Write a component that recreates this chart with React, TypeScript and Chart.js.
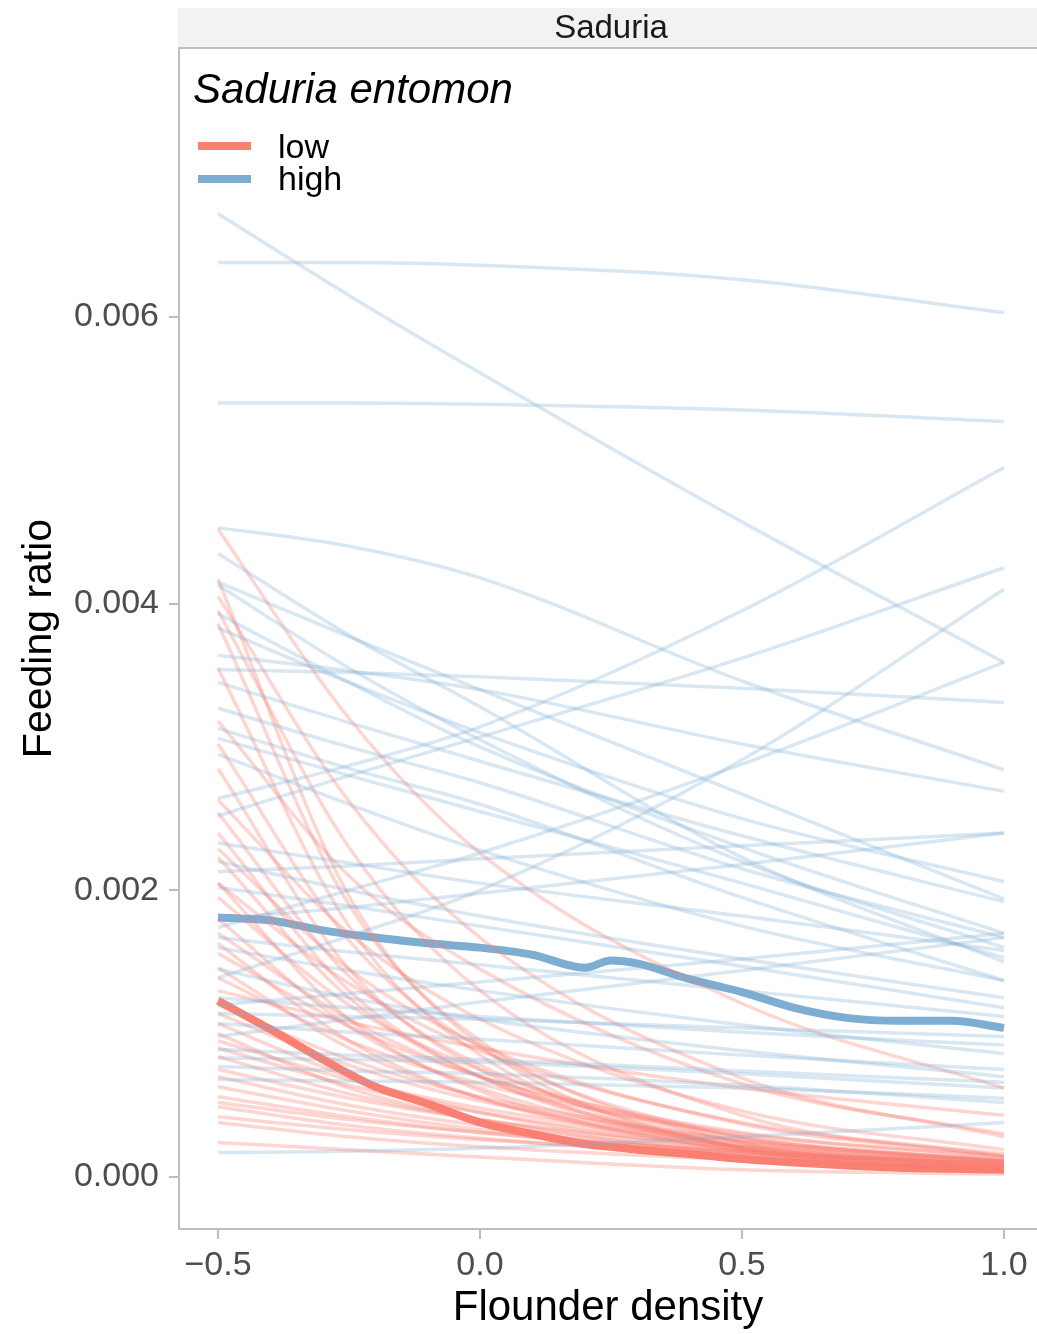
import React, { useEffect, useRef } from "react";
import { Chart, registerables } from "chart.js";

Chart.register(...registerables);

// ---------- data (feeding ratio values in units of 0.001) ----------
const UNIT = 0.001;
const X_POS = [-0.5, -0.25, 0, 0.5, 1.0];

// "high" draws (thin blue lines): values at X_POS
const HIGH_LINES: number[][] = [
  [6.72, 6.15, 5.61, 4.57, 3.59],
  [6.38, 6.38, 6.36, 6.26, 6.03],
  [5.40, 5.40, 5.39, 5.35, 5.27],
  [4.53, 4.40, 4.18, 3.46, 2.84],
  [4.35, 3.78, 3.28, 2.23, 1.50],
  [4.15, 3.77, 3.40, 2.67, 1.94],
  [4.13, 3.55, 3.05, 2.20, 1.60],
  [3.54, 3.52, 3.49, 3.41, 3.31],
  [3.64, 3.53, 3.40, 3.02, 2.69],
  [3.93, 3.45, 3.00, 2.30, 1.70],
  [3.83, 3.45, 3.10, 2.50, 2.06],
  [3.45, 3.17, 2.90, 2.38, 1.92],
  [3.27, 3.00, 2.75, 2.15, 1.67],
  [3.13, 2.85, 2.60, 1.95, 1.37],
  [3.06, 2.80, 2.55, 2.05, 1.53],
  [2.33, 2.19, 2.05, 1.82, 1.58],
  [2.64, 2.87, 3.14, 3.95, 4.95],
  [2.52, 2.80, 3.07, 3.62, 4.25],
  [2.13, 2.17, 2.22, 2.31, 2.40],
  [1.80, 1.88, 1.98, 2.18, 2.40],
  [1.74, 2.00, 2.26, 2.88, 3.59],
  [1.39, 1.68, 2.00, 2.91, 4.10],
  [2.02, 1.89, 1.75, 1.47, 1.18],
  [1.67, 1.57, 1.48, 1.30, 1.12],
  [1.60, 1.44, 1.30, 1.06, 0.86],
  [1.25, 1.18, 1.12, 1.01, 0.92],
  [1.14, 1.12, 1.10, 1.04, 0.98],
  [1.07, 1.01, 0.96, 0.85, 0.75],
  [0.89, 0.85, 0.82, 0.74, 0.66],
  [0.83, 0.82, 0.80, 0.72, 0.62],
  [0.77, 0.74, 0.72, 0.64, 0.52],
  [0.68, 0.67, 0.66, 0.62, 0.55],
  [0.17, 0.18, 0.20, 0.28, 0.38],
  [1.20, 1.28, 1.36, 1.52, 1.70],
  [0.98, 1.10, 1.22, 1.44, 1.67],
  [2.95, 2.60, 2.28, 1.75, 1.37],
  [2.20, 2.00, 1.82, 1.52, 1.25],
  [1.45, 1.25, 1.10, 0.88, 0.70],
];

// "low" draws (thin red lines): values at X_POS
const LOW_LINES: number[][] = [
  [4.52, 3.20, 2.26, 1.21, 0.62],
  [4.17, 1.96, 0.92, 0.20, 0.05],
  [3.95, 2.30, 1.30, 0.43, 0.14],
  [4.05, 2.62, 1.67, 0.69, 0.28],
  [3.86, 1.90, 0.95, 0.24, 0.06],
  [3.55, 1.75, 0.85, 0.20, 0.05],
  [3.02, 1.65, 0.90, 0.27, 0.08],
  [3.18, 2.10, 1.45, 0.65, 0.30],
  [2.63, 1.70, 1.10, 0.46, 0.19],
  [2.54, 1.40, 0.78, 0.24, 0.07],
  [2.29, 1.45, 0.92, 0.37, 0.15],
  [2.23, 1.25, 0.70, 0.22, 0.07],
  [2.05, 1.35, 0.88, 0.38, 0.16],
  [2.05, 1.10, 0.60, 0.18, 0.05],
  [1.70, 1.10, 0.70, 0.28, 0.11],
  [1.63, 0.95, 0.55, 0.19, 0.06],
  [1.56, 1.05, 0.70, 0.31, 0.14],
  [1.46, 0.90, 0.55, 0.21, 0.08],
  [1.39, 0.95, 0.65, 0.30, 0.14],
  [1.30, 1.08, 0.90, 0.62, 0.43],
  [1.14, 0.78, 0.53, 0.25, 0.11],
  [1.07, 0.70, 0.45, 0.19, 0.08],
  [0.95, 0.68, 0.48, 0.24, 0.12],
  [0.84, 0.58, 0.40, 0.19, 0.09],
  [0.75, 0.55, 0.40, 0.21, 0.11],
  [0.63, 0.46, 0.33, 0.17, 0.09],
  [0.56, 0.42, 0.31, 0.17, 0.09],
  [0.49, 0.36, 0.27, 0.15, 0.08],
  [0.42, 0.33, 0.26, 0.16, 0.10],
  [0.38, 0.28, 0.21, 0.12, 0.06],
  [0.24, 0.19, 0.14, 0.05, 0.02],
  [1.80, 1.05, 0.62, 0.21, 0.07],
  [1.95, 1.20, 0.75, 0.28, 0.10],
  [2.40, 1.30, 0.70, 0.20, 0.06],
  [2.85, 1.45, 0.75, 0.20, 0.05],
  [1.20, 0.82, 0.56, 0.26, 0.12],
  [1.00, 0.62, 0.40, 0.16, 0.06],
  [0.90, 0.64, 0.45, 0.22, 0.11],
  [0.70, 0.50, 0.36, 0.18, 0.09],
  [0.52, 0.40, 0.31, 0.18, 0.11],
];

// median curves (thick lines)
const MEDIAN_X = [-0.5, -0.4, -0.3, -0.2, -0.1, 0, 0.1, 0.2, 0.25, 0.3, 0.4, 0.5, 0.6, 0.7, 0.8, 0.9, 1.0];
const HIGH_MEDIAN = [1.81, 1.79, 1.72, 1.67, 1.63, 1.60, 1.55, 1.46, 1.51, 1.49, 1.38, 1.29, 1.18, 1.11, 1.09, 1.09, 1.04];
const LOW_MEDIAN = [1.23, 1.03, 0.82, 0.63, 0.51, 0.38, 0.30, 0.23, 0.21, 0.19, 0.16, 0.125, 0.10, 0.08, 0.065, 0.057, 0.05];

const X_TICKS = [-0.5, 0, 0.5, 1.0];
const X_TICK_LABELS = ["\u22120.5", "0.0", "0.5", "1.0"];
const Y_TICKS = [0, 0.002, 0.004, 0.006];
const Y_TICK_LABELS = ["0.000", "0.002", "0.004", "0.006"];

const SERIES_NAMES = ["low", "high"];
const FACET_LABEL = "Saduria";
const LEGEND_TITLE = "Saduria entomon";

// ---------- styles ----------
const FONT = "'Liberation Sans', Arial, Helvetica, sans-serif";
const RED = "rgb(250,128,114)";
const BLUE = "rgb(125,174,210)";
const RED_THIN = "rgba(250,128,114,0.33)";
const BLUE_THIN = "rgba(125,174,210,0.29)";
const FRAME = "#BEBEBE";

export default function App() {
  const ref = useRef<HTMLCanvasElement | null>(null);

  useEffect(() => {
    document.body.style.margin = "0";
    const canvas = ref.current;
    if (!canvas) return;

    const pts = (xs: number[], ys: number[]) => xs.map((x, i) => ({ x, y: ys[i] * UNIT }));
    const datasets: any[] = [];
    HIGH_LINES.forEach((l) =>
      datasets.push({
        data: pts(X_POS, l),
        borderColor: BLUE_THIN,
        borderWidth: 3.5,
        pointRadius: 0,
        cubicInterpolationMode: "monotone",
        fill: false,
      })
    );
    LOW_LINES.forEach((l) =>
      datasets.push({
        data: pts(X_POS, l),
        borderColor: RED_THIN,
        borderWidth: 3.5,
        pointRadius: 0,
        cubicInterpolationMode: "monotone",
        fill: false,
      })
    );
    datasets.push({
      data: pts(MEDIAN_X, HIGH_MEDIAN),
      borderColor: BLUE,
      borderWidth: 8,
      pointRadius: 0,
      cubicInterpolationMode: "monotone",
      fill: false,
    });
    datasets.push({
      data: pts(MEDIAN_X, LOW_MEDIAN),
      borderColor: RED,
      borderWidth: 8,
      pointRadius: 0,
      cubicInterpolationMode: "monotone",
      fill: false,
    });

    const decor = {
      id: "facetDecor",
      afterDraw(chart: any) {
        const { ctx, chartArea } = chart;
        ctx.save();
        // strip
        ctx.fillStyle = "#F2F2F2";
        ctx.fillRect(chartArea.left - 1, 8, chartArea.right - chartArea.left + 1, chartArea.top - 8);
        ctx.strokeStyle = FRAME;
        ctx.lineWidth = 2;
        ctx.beginPath();
        ctx.moveTo(chartArea.left - 1, chartArea.top);
        ctx.lineTo(chartArea.right, chartArea.top);
        ctx.stroke();
        ctx.fillStyle = "#1A1A1A";
        ctx.font = `33px ${FONT}`;
        ctx.textAlign = "center";
        ctx.textBaseline = "middle";
        ctx.fillText(FACET_LABEL, (chartArea.left + chartArea.right) / 2 + 3, 29);
        // legend
        ctx.textAlign = "left";
        ctx.textBaseline = "alphabetic";
        ctx.fillStyle = "#000";
        ctx.font = `italic 42px ${FONT}`;
        ctx.fillText(LEGEND_TITLE, 193, 103);
        const keys = [
          { name: SERIES_NAMES[0], color: RED, y: 146, base: 158 },
          { name: SERIES_NAMES[1], color: BLUE, y: 179, base: 190 },
        ];
        ctx.font = `34px ${FONT}`;
        keys.forEach((k) => {
          ctx.strokeStyle = k.color;
          ctx.lineWidth = 8;
          ctx.beginPath();
          ctx.moveTo(198, k.y);
          ctx.lineTo(251, k.y);
          ctx.stroke();
          ctx.fillStyle = "#000";
          ctx.fillText(k.name, 278, k.base);
        });
        ctx.restore();
      },
    };

    const chart = new Chart(canvas, {
      type: "line",
      data: { datasets },
      plugins: [decor],
      options: {
        animation: false,
        responsive: false,
        devicePixelRatio: 1,
        events: [],
        layout: { padding: { top: 48, left: 0, right: 0, bottom: 0 } },
        plugins: {
          legend: { display: false },
          tooltip: { enabled: false },
          title: { display: false },
        },
        scales: {
          x: {
            type: "linear",
            min: -0.5744,
            max: 1.063,
            afterBuildTicks: (s: any) => {
              s.ticks = X_TICKS.map((v) => ({ value: v }));
            },
            afterFit: (s: any) => {
              s.height = 105;
            },
            ticks: {
              autoSkip: false,
              maxRotation: 0,
              padding: 6,
              color: "#4D4D4D",
              font: { family: FONT, size: 34 },
              callback: (v: any) => X_TICK_LABELS[X_TICKS.indexOf(Number(v))] ?? "",
            },
            grid: {
              display: true,
              drawOnChartArea: false,
              drawTicks: true,
              tickLength: 10,
              color: FRAME,
              lineWidth: 2,
            },
            border: { display: true, color: FRAME, width: 2 },
            title: {
              display: true,
              text: "Flounder density",
              color: "#000",
              font: { family: FONT, size: 42 },
              padding: { top: 0, bottom: 0 },
            },
          },
          y: {
            type: "linear",
            min: -0.000363,
            max: 0.007876,
            afterBuildTicks: (s: any) => {
              s.ticks = Y_TICKS.map((v) => ({ value: v }));
            },
            afterFit: (s: any) => {
              s.width = 179;
            },
            ticks: {
              autoSkip: false,
              padding: 10,
              color: "#4D4D4D",
              font: { family: FONT, size: 34 },
              callback: (v: any) => {
                const i = Y_TICKS.findIndex((t) => Math.abs(t - Number(v)) < 1e-9);
                return i >= 0 ? Y_TICK_LABELS[i] : "";
              },
            },
            grid: {
              display: true,
              drawOnChartArea: false,
              drawTicks: true,
              tickLength: 10,
              color: FRAME,
              lineWidth: 2,
            },
            border: { display: true, color: FRAME, width: 2 },
            title: {
              display: true,
              text: "Feeding ratio",
              color: "#000",
              font: { family: FONT, size: 41 },
              padding: { top: 15, bottom: 0 },
            },
          },
        },
      } as any,
    });

    return () => chart.destroy();
  }, []);

  return (
    <div style={{ position: "absolute", left: 0, top: 0, width: 1037, height: 1334, background: "#fff" }}>
      <canvas ref={ref} width={1037} height={1334} style={{ display: "block" }} />
    </div>
  );
}
